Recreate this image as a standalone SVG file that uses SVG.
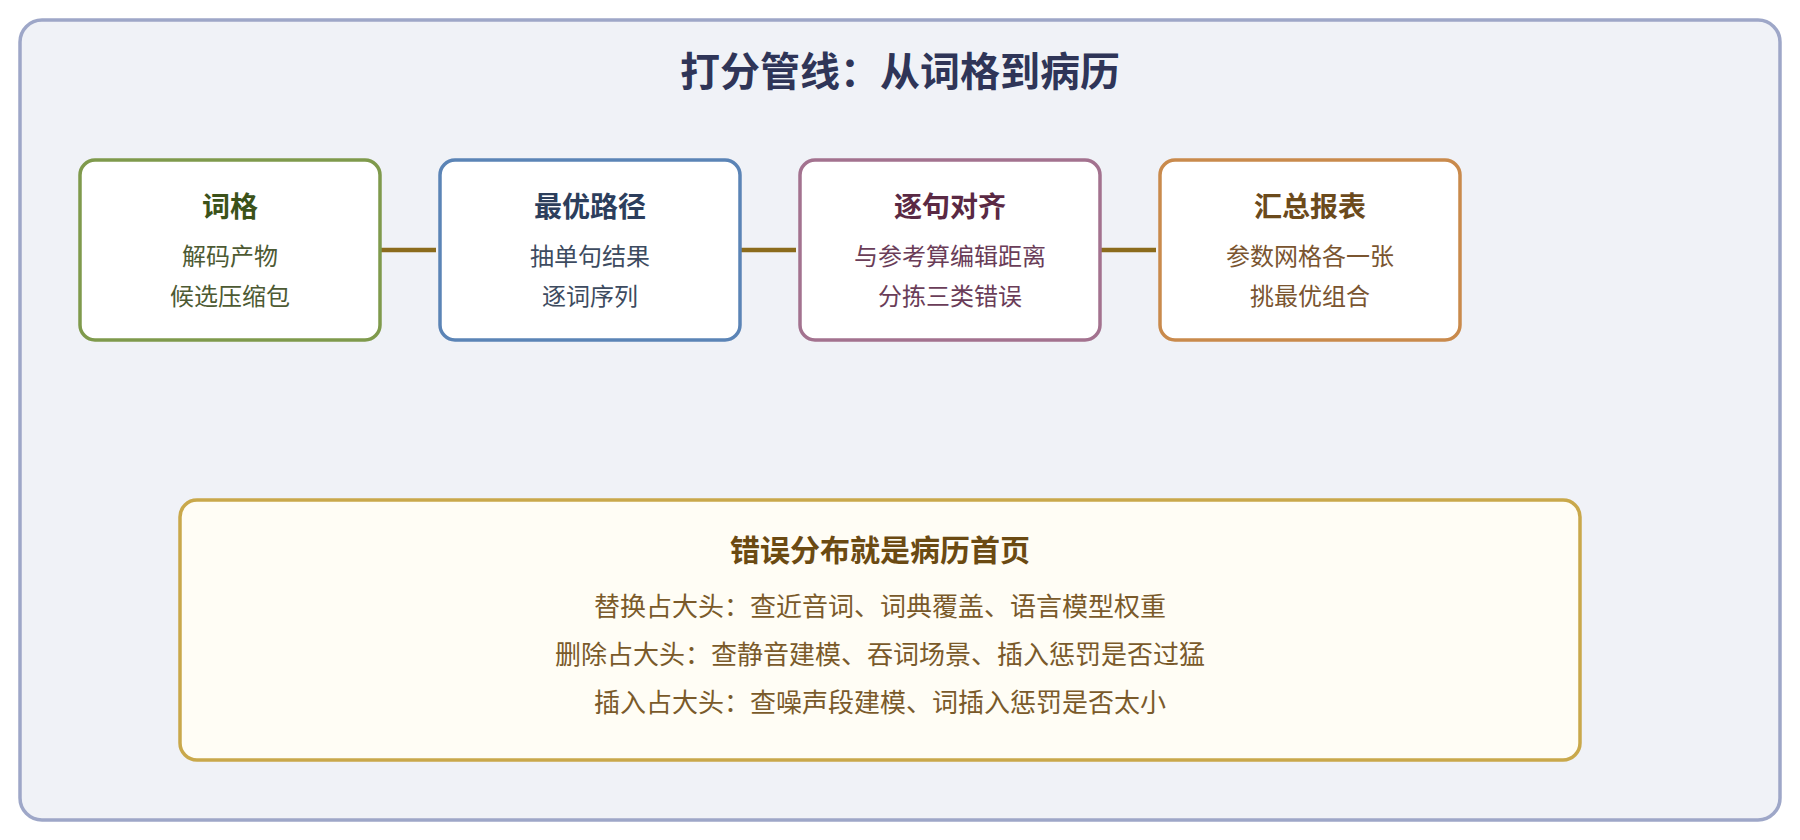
<svg xmlns="http://www.w3.org/2000/svg" width="1800" height="840" viewBox="0 0 1800 840">
  <style>
    text { font-family: "Noto Sans CJK SC", "Noto Sans", sans-serif; text-anchor: middle; }
    .main { font-size: 40px; font-weight: 700; fill: #2f3558; }
    .node rect { fill: #ffffff; stroke-width: 3.5; }
    .nt { font-size: 28px; font-weight: 700; }
    .nb { font-size: 24px; }
    .conn line { stroke: #8b6b1c; stroke-width: 4.5; }
    .bt { font-size: 30px; font-weight: 700; fill: #6b4a12; }
    .bb { font-size: 26px; fill: #7a5a2a; }
  </style>
  <rect x="0" y="0" width="1800" height="840" fill="#ffffff"/>
  <rect x="20" y="20" width="1760" height="800" rx="22" fill="#f0f2f7" stroke="#9ea7c8" stroke-width="3.5"/>
  <text class="main" x="900" y="86">打分管线：从词格到病历</text>

  <g class="conn">
    <line x1="380" y1="250" x2="436" y2="250"/>
    <line x1="740" y1="250" x2="796" y2="250"/>
    <line x1="1100" y1="250" x2="1156" y2="250"/>
  </g>

  <g id="node-lattice" class="node">
    <rect x="80" y="160" width="300" height="180" rx="15" stroke="#7f9a4c"/>
    <text class="nt" x="230" y="217" fill="#3c5219">词格</text>
    <text class="nb" x="230" y="265" fill="#4d5a33">解码产物</text>
    <text class="nb" x="230" y="305" fill="#4d5a33">候选压缩包</text>
  </g>
  <g id="node-bestpath" class="node">
    <rect x="440" y="160" width="300" height="180" rx="15" stroke="#5b84b6"/>
    <text class="nt" x="590" y="217" fill="#2c3e5c">最优路径</text>
    <text class="nb" x="590" y="265" fill="#3d4b60">抽单句结果</text>
    <text class="nb" x="590" y="305" fill="#3d4b60">逐词序列</text>
  </g>
  <g id="node-align" class="node">
    <rect x="800" y="160" width="300" height="180" rx="15" stroke="#a3728f"/>
    <text class="nt" x="950" y="217" fill="#5a2944">逐句对齐</text>
    <text class="nb" x="950" y="265" fill="#6a3d58">与参考算编辑距离</text>
    <text class="nb" x="950" y="305" fill="#6a3d58">分拣三类错误</text>
  </g>
  <g id="node-report" class="node">
    <rect x="1160" y="160" width="300" height="180" rx="15" stroke="#c98a4c"/>
    <text class="nt" x="1310" y="217" fill="#6b4a1c">汇总报表</text>
    <text class="nb" x="1310" y="265" fill="#7a5530">参数网格各一张</text>
    <text class="nb" x="1310" y="305" fill="#7a5530">挑最优组合</text>
  </g>

  <g id="node-summary">
    <rect x="180" y="500" width="1400" height="260" rx="17" fill="#fffdf5" stroke="#c9a84b" stroke-width="3.5"/>
    <text class="bt" x="880" y="561">错误分布就是病历首页</text>
    <text class="bb" x="880" y="616">替换占大头：查近音词、词典覆盖、语言模型权重</text>
    <text class="bb" x="880" y="664">删除占大头：查静音建模、吞词场景、插入惩罚是否过猛</text>
    <text class="bb" x="880" y="712">插入占大头：查噪声段建模、词插入惩罚是否太小</text>
  </g>
</svg>
